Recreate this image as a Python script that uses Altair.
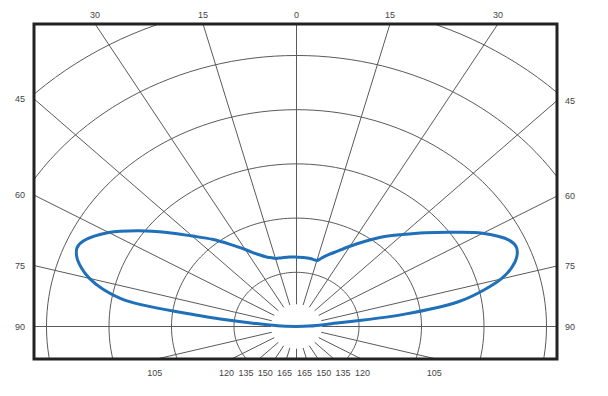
import math
import altair as alt
import pandas as pd

# ---- data (intensity in ring units, 1 = first ring) ----
angles = [0, 5, 10, 12.5, 15, 17.5, 20, 25, 30, 35, 40, 45, 50, 55, 60, 65,
          67.5, 70, 72.5, 75, 77.5, 80, 82.5, 85, 87.5, 90]
left_intensity = [1.28, 1.285, 1.29, 1.295, 1.30, 1.33, 1.36, 1.47, 1.64, 1.85,
                  2.10, 2.36, 2.70, 3.08, 3.47, 3.75, 3.80, 3.74, 3.61, 3.43,
                  3.17, 2.78, 1.60, 0.70, 0.30, 0.0]
right_intensity = [1.28, 1.28, 1.275, 1.265, 1.26, 1.32, 1.39, 1.53, 1.71, 1.92,
                   2.16, 2.40, 2.69, 3.03, 3.44, 3.76, 3.81, 3.75, 3.61, 3.39,
                   3.05, 2.63, 1.75, 0.50, 0.20, 0.0]

ring_values = [1, 2, 3, 4, 5, 6]
spoke_step = 15
top_labels = [30, 15, 0, 15, 30]
top_label_angles = [-30, -15, 0, 15, 30]
side_labels = [45, 60, 75, 90]
bottom_labels = [105, 120, 135, 150, 165]

# ---- layout ----
W, H = 523, 335
X0, X1 = -4.20, 4.168
Y0, Y1 = -0.5996, 5.581
PXX = W / (X1 - X0)
PXY = H / (Y1 - Y0)
HOLE = 0.41

# curve
rows = []
o = 0
for a, r in reversed(list(zip(angles, left_intensity))):
    t = math.radians(a)
    rows.append({"x": -r * math.sin(t), "y": r * math.cos(t), "o": o})
    o += 1
for a, r in list(zip(angles, right_intensity))[1:]:
    t = math.radians(a)
    rows.append({"x": r * math.sin(t), "y": r * math.cos(t), "o": o})
    o += 1
curve_df = pd.DataFrame(rows)

# rings
ring_rows = []
for k in ring_values:
    for i, d in enumerate(range(0, 361, 2)):
        t = math.radians(d)
        ring_rows.append({"ring": k, "x": k * math.sin(t), "y": k * math.cos(t), "o": i})
ring_df = pd.DataFrame(ring_rows)

# spokes
spoke_rows = []
for d in range(0, 360, spoke_step):
    t = math.radians(d)
    for j, r in enumerate([HOLE, 12]):
        spoke_rows.append({"s": d, "x": r * math.sin(t), "y": r * math.cos(t), "o": j})
spoke_df = pd.DataFrame(spoke_rows)

# labels
lab = []
ytop_lab = Y1 + 9.5 / PXY
for txt, a in zip(top_labels, top_label_angles):
    lab.append({"t": str(txt), "x": Y1 * math.tan(math.radians(a)), "y": ytop_lab})
for a in side_labels:
    ta = math.tan(math.radians(a))
    yl = (abs(X0) / ta) if a != 90 else 0.0
    yr = (abs(X1) / ta) if a != 90 else 0.0
    lab.append({"t": str(a), "x": X0 - 14 / PXX, "y": yl})
    lab.append({"t": str(a), "x": X1 + 13 / PXX, "y": yr})
ybot_lab = Y0 - 13.5 / PXY
for i, a in enumerate(bottom_labels):
    if a == 105:
        dx = abs(Y0) * math.tan(math.radians(180 - a)) * PXX
    else:
        dx = 10 + 19.3 * (165 - a) / 15
    for sgn in (-1, 1):
        lab.append({"t": str(a), "x": (sgn * dx - 2) / PXX, "y": ybot_lab})
lab_df = pd.DataFrame(lab)

# frame
frame_df = pd.DataFrame({"x": [X0], "x2": [X1], "y": [Y0], "y2": [Y1]})

xs = alt.Scale(domain=[X0, X1], nice=False, zero=False)
ys = alt.Scale(domain=[Y0, Y1], nice=False, zero=False)

rings = alt.Chart(ring_df).mark_line(clip=True, color="#5a5a5a", strokeWidth=1).encode(
    x=alt.X("x:Q", scale=xs, axis=None),
    y=alt.Y("y:Q", scale=ys, axis=None),
    detail="ring:N",
    order="o:Q",
)
spokes = alt.Chart(spoke_df).mark_line(clip=True, color="#5a5a5a", strokeWidth=1).encode(
    x=alt.X("x:Q", scale=xs, axis=None),
    y=alt.Y("y:Q", scale=ys, axis=None),
    detail="s:N",
    order="o:Q",
)
curve = alt.Chart(curve_df).mark_line(
    clip=True, color="#1f70b8", strokeWidth=3, interpolate="catmull-rom"
).encode(
    x=alt.X("x:Q", scale=xs, axis=None),
    y=alt.Y("y:Q", scale=ys, axis=None),
    order="o:Q",
)
frame = alt.Chart(frame_df).mark_rect(
    fill=None, fillOpacity=0, stroke="#222", strokeWidth=3
).encode(
    x=alt.X("x:Q", scale=xs, axis=None),
    x2="x2:Q",
    y=alt.Y("y:Q", scale=ys, axis=None),
    y2="y2:Q",
)
labels = alt.Chart(lab_df).mark_text(
    font="Liberation Sans", fontSize=9, color="#444", baseline="middle", align="center"
).encode(
    x=alt.X("x:Q", scale=xs, axis=None),
    y=alt.Y("y:Q", scale=ys, axis=None),
    text="t:N",
)

chart = alt.layer(rings, spokes, curve, frame, labels).properties(
    width=W,
    height=H,
    background="white",
    autosize=alt.AutoSizeParams(type="none"),
    padding={"left": 34, "top": 24, "right": 608 - 34 - W, "bottom": 396 - 24 - H},
).configure_view(strokeWidth=0)

chart.save("out.html", embed_options={"renderer": "svg", "actions": False})
